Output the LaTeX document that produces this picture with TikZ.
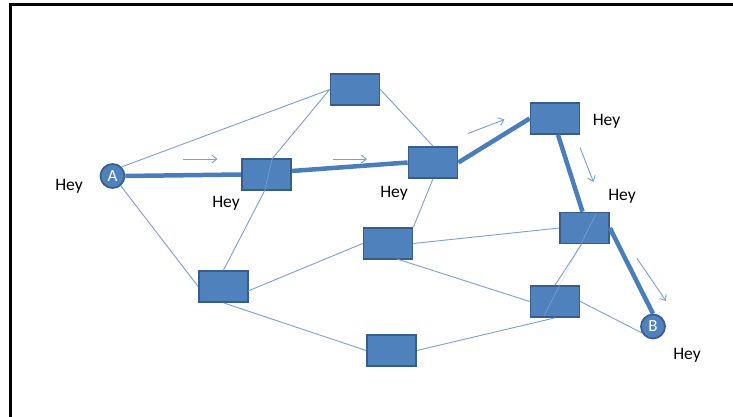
\documentclass[tikz,border=0pt]{standalone}
\usepackage{fontspec}
\setmainfont{Carlito}
\usetikzlibrary{arrows.meta}
\definecolor{fillb}{HTML}{4F81BD}
\definecolor{drawb}{HTML}{385D8A}
\definecolor{thinb}{HTML}{7AA0D4}
\definecolor{thickb}{HTML}{4A7EBB}
\tikzset{
  box/.style={rectangle, fill=fillb, draw=drawb, line width=1.7pt, minimum width=49pt, minimum height=31pt, inner sep=0pt},
  endpt/.style={circle, fill=fillb, draw=drawb, line width=1.7pt, minimum size=24pt, inner sep=0pt, text=white, font=\fontsize{17}{17}\selectfont},
  thin/.style={draw=thinb, line width=0.9pt},
  faint/.style={draw=thinb!60!white, line width=0.9pt, opacity=0.35},
  thick/.style={draw=thickb, line width=4.5pt},
  hint/.style={draw=thinb, line width=0.9pt, -{Straight Barb[length=5pt,width=8pt]}},
  lbl/.style={font=\fontsize{17.5}{17.5}\selectfont, inner sep=0pt, anchor=base}
}
\begin{document}
\begin{tikzpicture}[x=1pt,y=-1pt]
\useasboundingbox (0,0) rectangle (733,417);
\fill[white] (0,0) rectangle (733,417);
\draw[line width=3pt] (10.8,417) -- (10.8,4.8) -- (733,4.8);
% coordinates where thin lines meet or cross boxes
\coordinate (p2t) at (272,159);
\coordinate (p2b) at (265,190);
\coordinate (p6b) at (397,259);
\coordinate (p7r) at (248,291);
\coordinate (p5i) at (596,214);
\coordinate (p8i) at (544,316);
% nodes
\node[endpt] (A) at (112.5,176) {A};
\node[endpt] (B) at (653,326.5) {B};
\node[box] (n1) at (355,89.5) {};
\node[box] (n2) at (266.5,174.5) {};
\node[box] (n3) at (433,162.5) {};
\node[box] (n4) at (555,118.5) {};
\node[box] (n5) at (584.5,228) {};
\node[box] (n6) at (388,243.5) {};
\node[box] (n7) at (223.5,286.5) {};
\node[box] (n8) at (555,301.5) {};
\node[box] (n9) at (391.5,350.5) {};
% faint line parts seen through boxes
\draw[faint] (p2t) -- (p2b);
\draw[faint] (p5i) -- (p8i);
% thin connectors
\draw[thin] (A.45) -- (n1.west);
\draw[thin] (A.-50) -- (n7.west);
\draw[thin] (n1.west) -- (p2t);
\draw[thin] (p2b) -- (n7.north);
\draw[thin] (n1.east) -- (n3.north);
\draw[thin] (n3.south) -- (n6.north east);
\draw[thin] (p7r) -- (n6.west);
\draw[thin] (n7.south) -- (n9.west);
\draw[thin] (n6.east) -- (n5.west);
\draw[thin] (p6b) -- (n8.west);
\draw[thin] (n9.east) -- (n8.south);
\draw[thin] (n8.east) -- (B.210);
\draw[thin] (n5.south) ++(-3pt,0) -- (n8.north);
% thick path
\draw[thick] (A.east) -- (n2.west);
\draw[thick] ([yshift=3.5pt]n2.east) -- (n3.west);
\draw[thick] (n3.east) -- (n4.west);
\draw[thick] ([xshift=3pt]n4.south) -- ([xshift=-2pt]n5.north);
\draw[thick] (n5.east) -- (B.north);
% hint arrows
\coordinate (h1s) at (183,159); \coordinate (h1e) at (217.5,159);
\coordinate (h2s) at (333,159); \coordinate (h2e) at (367,159);
\coordinate (h3s) at (468,133.5); \coordinate (h3e) at (504.5,119.5);
\coordinate (h4s) at (580,147.5); \coordinate (h4e) at (593.5,182);
\coordinate (h5s) at (637,258.5); \coordinate (h5e) at (666,301);
\draw[hint] (h1s) -- (h1e);
\draw[hint] (h2s) -- (h2e);
\draw[hint] (h3s) -- (h3e);
\draw[hint] (h4s) -- (h4e);
\draw[hint] (h5s) -- (h5e);
% labels
\node[lbl] (l1) at (69,190) {Hey};
\node[lbl] (l2) at (226,207.5) {Hey};
\node[lbl] (l3) at (394,197.5) {Hey};
\node[lbl] (l4) at (606.5,125) {Hey};
\node[lbl] (l5) at (622,200.5) {Hey};
\node[lbl] (l6) at (687,359.5) {Hey};
\end{tikzpicture}
\end{document}
